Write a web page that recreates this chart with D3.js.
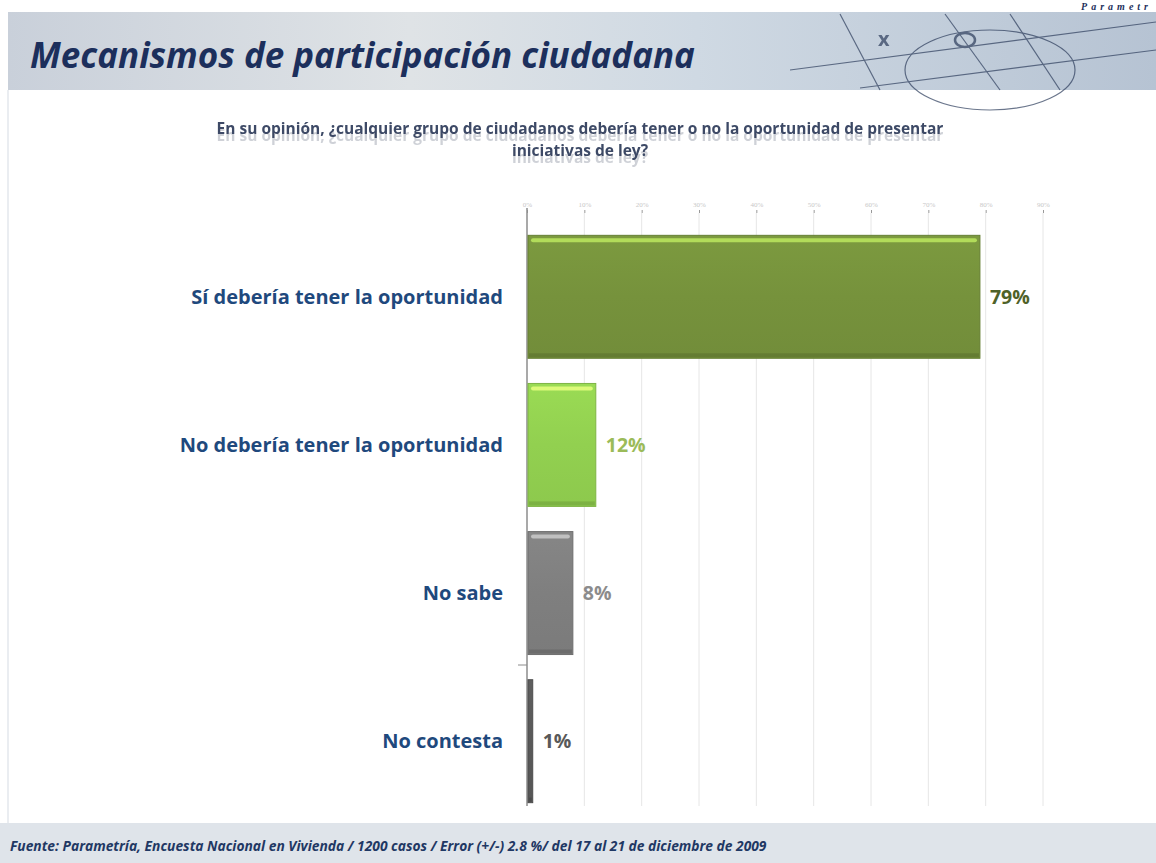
<!DOCTYPE html>
<html>
<head>
<meta charset="utf-8">
<script src="https://cdn.jsdelivr.net/npm/d3@7"></script>
<style>
  body { margin: 0; background: #fff; }
  svg { display: block; font-family: "Open Sans", "Noto Sans", sans-serif; }
</style>
</head>
<body>
<div id="chart"></div>
<script>
// Data
var categories = ["Sí debería tener la oportunidad", "No debería tener la oportunidad", "No sabe", "No contesta"];
var values = [79, 12, 8, 1];
var barColors = ["#76923c", "#92d050", "#7f7f7f", "#595959"];
var labelColors = ["#4f6228", "#9bbb59", "#8c8c8c", "#595959"];
var tickValues = [0, 10, 20, 30, 40, 50, 60, 70, 80, 90];

var W = 1156, H = 863;
var svg = d3.select("#chart").append("svg")
    .attr("width", W)
    .attr("height", H);

var defs = svg.append("defs");

// reflection-like shadow under the question text
var f = defs.append("filter").attr("id", "refl").attr("x", "-5%").attr("y", "-50%").attr("width", "110%").attr("height", "200%");
f.append("feOffset").attr("in", "SourceAlpha").attr("dy", 7).attr("result", "off");
f.append("feGaussianBlur").attr("in", "off").attr("stdDeviation", 0.6).attr("result", "blur");
f.append("feFlood").attr("flood-color", "#aeb3bd").attr("flood-opacity", 0.6).attr("result", "col");
f.append("feComposite").attr("in", "col").attr("in2", "blur").attr("operator", "in").attr("result", "shadow");
var fm = f.append("feMerge");
fm.append("feMergeNode").attr("in", "shadow");
fm.append("feMergeNode").attr("in", "SourceGraphic");

// header background
var hg = defs.append("linearGradient").attr("id", "hdr").attr("x1", 0).attr("x2", 1).attr("y1", 0).attr("y2", 0);
hg.append("stop").attr("offset", "0%").attr("stop-color", "#c9d0da");
hg.append("stop").attr("offset", "35%").attr("stop-color", "#dfe3e6");
hg.append("stop").attr("offset", "60%").attr("stop-color", "#cfd9e3");
hg.append("stop").attr("offset", "100%").attr("stop-color", "#b6c3d3");

svg.append("rect")
    .attr("x", 8).attr("y", 12)
    .attr("width", W - 8).attr("height", 78)
    .attr("fill", "url(#hdr)");

// a few decorative strokes in the header
var deco = svg.append("g").attr("stroke", "#2d3d5c").attr("fill", "none").attr("stroke-width", 1.2).attr("opacity", 0.7);
deco.append("line").attr("x1", 840).attr("y1", 14).attr("x2", 880).attr("y2", 90);
deco.append("line").attr("x1", 945).attr("y1", 14).attr("x2", 1000).attr("y2", 90);
deco.append("line").attr("x1", 1010).attr("y1", 14).attr("x2", 1060).attr("y2", 90);
deco.append("line").attr("x1", 790).attr("y1", 70).attr("x2", 1156).attr("y2", 22);
deco.append("line").attr("x1", 860).attr("y1", 88).attr("x2", 1156).attr("y2", 50);
deco.append("ellipse").attr("cx", 990).attr("cy", 70).attr("rx", 85).attr("ry", 40);
deco.append("ellipse").attr("cx", 965).attr("cy", 40).attr("rx", 10).attr("ry", 7).attr("stroke-width", 2.5);
deco.append("text").attr("x", 878).attr("y", 46).attr("fill", "#2d3d5c").attr("stroke", "none")
    .attr("font-size", 20).attr("font-weight", "bold").text("x");

svg.append("text")
    .attr("x", 30).attr("y", 68)
    .attr("font-size", 35)
    .attr("font-style", "italic")
    .attr("font-weight", "bold")
    .attr("fill", "#1c2f5c")
    .text("Mecanismos de participación ciudadana");

svg.append("text")
    .attr("x", 1152).attr("y", 10)
    .attr("text-anchor", "end")
    .attr("font-family", "Liberation Serif, serif")
    .attr("font-size", 10)
    .attr("font-style", "italic")
    .attr("font-weight", "bold")
    .attr("letter-spacing", 4)
    .attr("fill", "#1c2f5c")
    .text("Parametr");

// left page border
svg.append("line")
    .attr("x1", 8).attr("y1", 90).attr("x2", 8).attr("y2", 823)
    .attr("stroke", "#d5dbe3");

// question
var q = ["En su opinión, ¿cualquier grupo de ciudadanos debería tener o no la oportunidad de presentar", "iniciativas de ley?"];
svg.append("g")
    .attr("filter", "url(#refl)")
    .selectAll("text")
    .data(q)
    .enter()
    .append("text")
    .attr("x", 580)
    .attr("y", function (d, i) { return 134 + i * 22; })
    .attr("text-anchor", "middle")
    .attr("font-size", 15.5)
    .attr("font-weight", "bold")
    .attr("fill", "#3d4a66")
    .text(function (d) { return d; });

// scales
var x = d3.scaleLinear().domain([0, 90]).range([527, 1043]);
var y = d3.scaleBand().domain(categories).range([222, 816]).paddingInner(0.17).paddingOuter(0.09);

// grid
svg.append("g")
    .selectAll("line")
    .data(tickValues.slice(1))
    .enter()
    .append("line")
    .attr("x1", function (d) { return x(d); })
    .attr("x2", function (d) { return x(d); })
    .attr("y1", 213).attr("y2", 806)
    .attr("stroke", "#e6e6e6");

// top axis
var xAxis = svg.append("g")
    .attr("transform", "translate(0,213)")
    .call(d3.axisTop(x).tickValues(tickValues).tickSize(3).tickFormat(function (d) { return d + "%"; }));
xAxis.select(".domain").remove();
xAxis.selectAll("line").attr("stroke", "#999");
xAxis.selectAll("text").attr("fill", "#c8c8c8").attr("font-size", 7).attr("font-family", "Liberation Serif, serif");

// y axis line
svg.append("line")
    .attr("x1", 527).attr("x2", 527)
    .attr("y1", 208).attr("y2", 806)
    .attr("stroke", "#8c8c8c").attr("stroke-width", 1.5);
svg.append("line")
    .attr("x1", 518).attr("x2", 527)
    .attr("y1", 665).attr("y2", 665)
    .attr("stroke", "#8c8c8c");

// bar gradients
barColors.forEach(function (c, i) {
    var g = defs.append("linearGradient").attr("id", "bg" + i).attr("x1", 0).attr("x2", 0).attr("y1", 0).attr("y2", 1);
    g.append("stop").attr("offset", "0%").attr("stop-color", d3.color(c).brighter(0.15));
    g.append("stop").attr("offset", "50%").attr("stop-color", c);
    g.append("stop").attr("offset", "100%").attr("stop-color", d3.color(c).darker(0.1));
});

var bars = svg.append("g")
    .selectAll("g")
    .data(values)
    .enter()
    .append("g");

bars.append("rect")
    .attr("x", x(0) + 1)
    .attr("y", function (d, i) { return y(categories[i]); })
    .attr("width", function (d) { return x(d) - x(0) - 1; })
    .attr("height", y.bandwidth())
    .attr("fill", function (d, i) { return "url(#bg" + i + ")"; })
    .attr("stroke", function (d, i) { return d3.color(barColors[i]).darker(0.4); })
    .attr("stroke-width", 1);

// top highlight
bars.filter(function (d) { return d > 5; })
    .append("rect")
    .attr("x", x(0) + 4)
    .attr("y", function (d, i) { return y(categories[i]) + 3; })
    .attr("width", function (d) { return x(d) - x(0) - 7; })
    .attr("height", 4)
    .attr("rx", 2)
    .attr("fill", function (d, i) { return d3.color(barColors[i]).brighter(1.3); })
    .attr("opacity", 0.85);

// bottom shadow
bars.append("rect")
    .attr("x", x(0) + 2)
    .attr("y", function (d, i) { return y(categories[i]) + y.bandwidth() - 5; })
    .attr("width", function (d) { return Math.max(x(d) - x(0) - 3, 1); })
    .attr("height", 4)
    .attr("fill", function (d, i) { return d3.color(barColors[i]).darker(0.7); })
    .attr("opacity", 0.6);

// value labels
svg.append("g")
    .selectAll("text")
    .data(values)
    .enter()
    .append("text")
    .attr("x", function (d) { return x(d) + 10; })
    .attr("y", function (d, i) { return y(categories[i]) + y.bandwidth() / 2 + 7; })
    .attr("font-size", 19.5)
    .attr("font-weight", "bold")
    .attr("fill", function (d, i) { return labelColors[i]; })
    .text(function (d) { return d + "%"; });

// category labels
svg.append("g")
    .selectAll("text")
    .data(categories)
    .enter()
    .append("text")
    .attr("x", 503)
    .attr("y", function (d) { return y(d) + y.bandwidth() / 2 + 7; })
    .attr("text-anchor", "end")
    .attr("font-size", 20)
    .attr("font-weight", "bold")
    .attr("fill", "#1f497d")
    .text(function (d) { return d; });

// footer
svg.append("rect")
    .attr("x", 0).attr("y", 823)
    .attr("width", W).attr("height", 40)
    .attr("fill", "#dfe4ea");
svg.append("text")
    .attr("x", 10).attr("y", 851)
    .attr("font-size", 13.8)
    .attr("font-style", "italic")
    .attr("font-weight", "bold")
    .attr("fill", "#1f3864")
    .text("Fuente: Parametría, Encuesta Nacional en Vivienda / 1200 casos / Error (+/-) 2.8 %/ del 17 al 21 de diciembre de 2009");
</script>
</body>
</html>
